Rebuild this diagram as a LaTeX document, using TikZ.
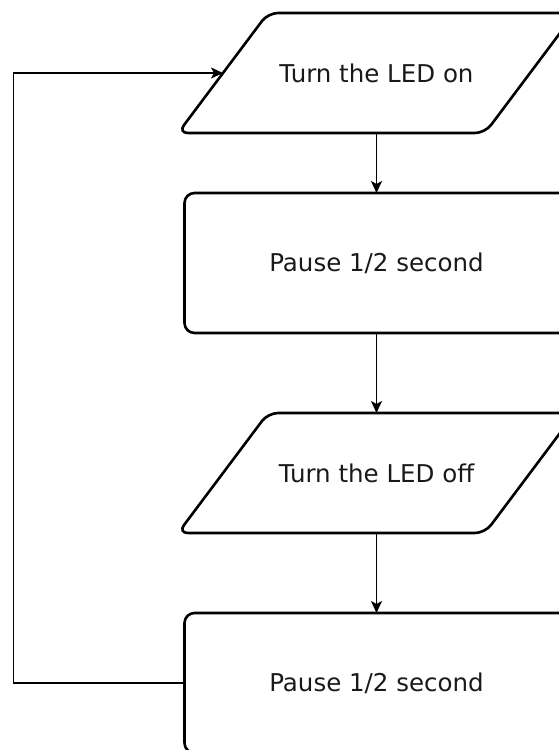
\documentclass[tikz,border=0pt]{standalone}
\usepackage{fontspec}
\setmainfont{DejaVu Sans}
\usepackage{tikz}
\usetikzlibrary{positioning}
\usetikzlibrary{arrows.meta}

\begin{document}
\begin{tikzpicture}[x=1pt,y=1pt]
	\useasboundingbox (0,0) rectangle (559,-750);

	\begin{scope}[every node/.style={outer sep=0pt, text=black!90,
	                                 font=\fontsize{24.5}{29}\selectfont},
	              io/.style={rectangle, minimum width=307pt, minimum height=120pt},
	              pause/.style={rectangle, draw, line width=2.6pt, minimum width=384pt,
	                            minimum height=140pt, rounded corners=10pt}]
	    \node[io] (ledon) at (376.5,-73) {Turn the LED on};
	    \node[pause, below=60pt of ledon] (waiton) {Pause 1/2 second};
	    \node[io, below=80pt of waiton] (ledoff) {Turn the LED off};
	    \node[pause, below=80pt of ledoff] (waitoff) {Pause 1/2 second};
	\end{scope}

	% slanted input/output boxes
	\foreach \n in {ledon,ledoff}
	    \draw[line width=2.6pt, rounded corners=10pt]
	        ([xshift=-45pt]\n.south west) -- ([xshift=45pt]\n.north west)
	        -- ([xshift=45pt]\n.north east) -- ([xshift=-45pt]\n.south east) -- cycle;

	\begin{scope}[>={Stealth[length=12pt,width=11pt,inset=3pt]}, line width=1.6pt]
	    \draw [->] (ledon) -- (waiton);
	    \draw [->] (waiton) -- (ledoff);
	    \draw [->] (ledoff) -- (waitoff);
	    \draw [->] (waitoff.west) -- ++(-171,0) |- (ledon.west);
	\end{scope}
\end{tikzpicture}
\end{document}
